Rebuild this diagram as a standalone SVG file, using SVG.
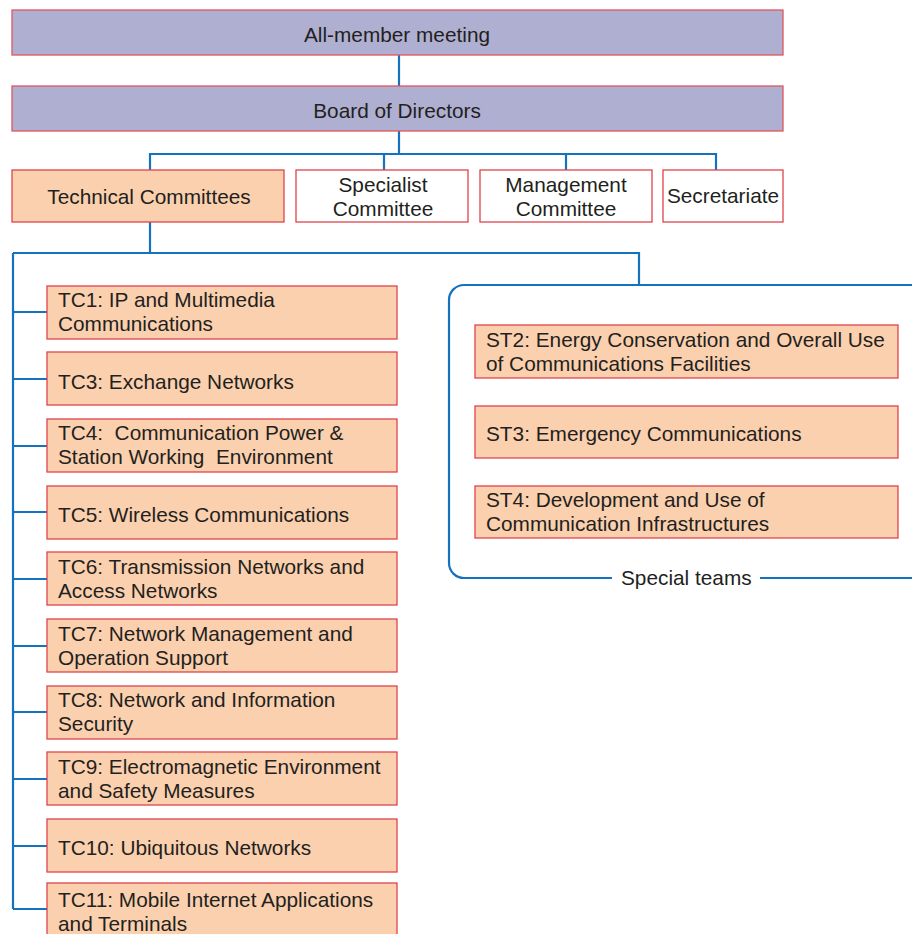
<svg xmlns="http://www.w3.org/2000/svg" width="912" height="934" viewBox="0 0 912 934">
<style>
.t{font-family:"Liberation Sans",Arial,sans-serif;font-size:20.8px;fill:#231f20}
.c{text-anchor:middle}
.p{fill:#afafd1;stroke:#e0565e;stroke-width:1.3}
.o{fill:#fbd0ae;stroke:#e0444c;stroke-width:1.3}
.w{fill:#ffffff;stroke:#e0444c;stroke-width:1.3}
.l{fill:none;stroke:#1572bf;stroke-width:2.2}
</style>
<rect width="912" height="934" fill="#fff"/>
<g id="connectors">
<path class="l" d="M399 55V86M399 131V154M150 170V154H716V170M384 154V170M566 154V170"/>
<path class="l" d="M150 222V253M13 253H639V285"/>
<path class="l" d="M13 253V909M13 312H47M13 379H47M13 446H47M13 512H47M13 579H47M13 646H47M13 712H47M13 779H47M13 846H47M13 909H47"/>
<path class="l" d="M912 285H464A15 15 0 0 0 449 300V563A15 15 0 0 0 464 578H612M760 578H912"/>
</g>
<g id="all-member"><rect class="p" x="12" y="10" width="771" height="45"/><text class="t c" x="397" y="42">All-member meeting</text></g>
<g id="board"><rect class="p" x="12" y="86" width="771" height="45"/><text class="t c" x="397" y="118">Board of Directors</text></g>
<g id="technical"><rect class="o" x="12" y="170" width="272" height="52"/><text class="t c" x="149" y="204">Technical Committees</text></g>
<g id="specialist"><rect class="w" x="296" y="170" width="172" height="52"/><text class="t c" x="383" y="192">Specialist</text><text class="t c" x="383" y="216">Committee</text></g>
<g id="management"><rect class="w" x="480" y="170" width="172" height="52"/><text class="t c" x="566" y="192">Management</text><text class="t c" x="566" y="216">Committee</text></g>
<g id="secretariate"><rect class="w" x="663" y="170" width="120" height="52"/><text class="t c" x="723" y="203">Secretariate</text></g>
<g id="tc1"><rect class="o" x="47" y="286" width="350" height="53"/><text class="t" x="58" y="307">TC1: IP and Multimedia</text><text class="t" x="58" y="331">Communications</text></g>
<g id="tc3"><rect class="o" x="47" y="352" width="350" height="53"/><text class="t" x="58" y="389">TC3: Exchange Networks</text></g>
<g id="tc4"><rect class="o" x="47" y="419" width="350" height="53"/><text class="t" x="58" y="440" xml:space="preserve">TC4:  Communication Power &amp;</text><text class="t" x="58" y="464" xml:space="preserve">Station Working  Environment</text></g>
<g id="tc5"><rect class="o" x="47" y="486" width="350" height="53"/><text class="t" x="58" y="522">TC5: Wireless Communications</text></g>
<g id="tc6"><rect class="o" x="47" y="552" width="350" height="53"/><text class="t" x="58" y="574">TC6: Transmission Networks and</text><text class="t" x="58" y="598">Access Networks</text></g>
<g id="tc7"><rect class="o" x="47" y="619" width="350" height="53"/><text class="t" x="58" y="641">TC7: Network Management and</text><text class="t" x="58" y="665">Operation Support</text></g>
<g id="tc8"><rect class="o" x="47" y="686" width="350" height="53"/><text class="t" x="58" y="707">TC8: Network and Information</text><text class="t" x="58" y="731">Security</text></g>
<g id="tc9"><rect class="o" x="47" y="752" width="350" height="53"/><text class="t" x="58" y="774">TC9: Electromagnetic Environment</text><text class="t" x="58" y="798">and Safety Measures</text></g>
<g id="tc10"><rect class="o" x="47" y="819" width="350" height="53"/><text class="t" x="58" y="855">TC10: Ubiquitous Networks</text></g>
<g id="tc11"><rect class="o" x="47" y="883" width="350" height="60"/><text class="t" x="58" y="907">TC11: Mobile Internet Applications</text><text class="t" x="58" y="931">and Terminals</text></g>
<g id="st2"><rect class="o" x="475" y="325" width="423" height="53"/><text class="t" x="486" y="347">ST2: Energy Conservation and Overall Use</text><text class="t" x="486" y="371">of Communications Facilities</text></g>
<g id="st3"><rect class="o" x="475" y="406" width="423" height="52"/><text class="t" x="486" y="441">ST3: Emergency Communications</text></g>
<g id="st4"><rect class="o" x="475" y="486" width="423" height="52"/><text class="t" x="486" y="507">ST4: Development and Use of</text><text class="t" x="486" y="531">Communication Infrastructures</text></g>
<g id="special-teams-label"><text class="t" x="621" y="585">Special teams</text></g>
</svg>
